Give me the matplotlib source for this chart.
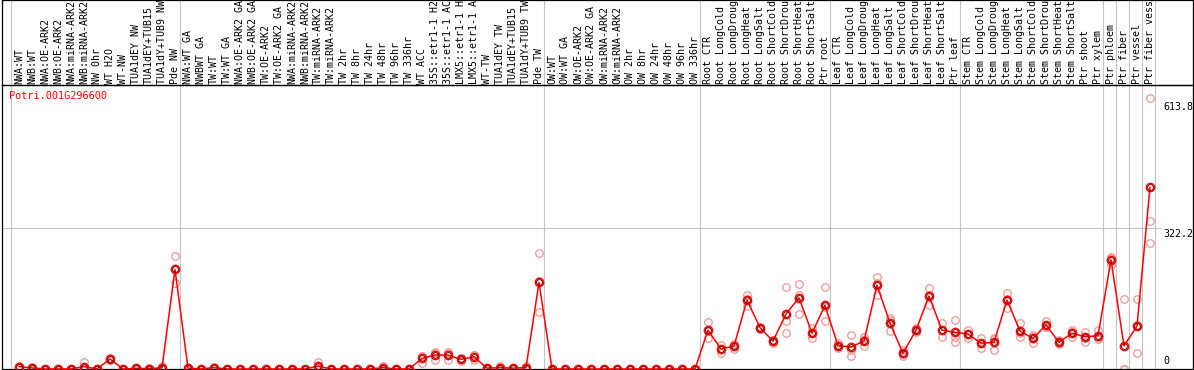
import matplotlib
matplotlib.use("Agg")
import matplotlib.pyplot as plt
import matplotlib.transforms as mtransforms
import numpy as np

gene = "Potri.001G296600"

labels = [
    "NWA:WT", "NWB:WT", "NWA:OE-ARK2", "NWB:OE-ARK2", "NWA:miRNA-ARK2", "NWB:miRNA-ARK2",
    "NW 0hr", "WT H2O", "WT-NW", "TUA1dEY NW", "TUA1dEY+TUB15", "TUA1dY+TUB9 NW", "Pde NW",
    "NWA:WT GA", "NWBWT GA", "TW:WT", "TW:WT GA", "NWA:OE-ARK2 GA", "NWB:OE-ARK2 GA",
    "TW:OE-ARK2", "TW:OE-ARK2 GA", "NWA:miRNA-ARK2", "NWB:miRNA-ARK2", "TW:miRNA-ARK2",
    "TW:miRNA-ARK2", "TW 2hr", "TW 8hr", "TW 24hr", "TW 48hr", "TW 96hr", "TW 336hr", "WT ACC",
    "35S::etr1-1 H2O", "35S::etr1-1 ACC", "LMX5::etr1-1 H2O", "LMX5::etr1-1 ACC", "WT-TW",
    "TUA1dEY TW", "TUA1dEY+TUB15", "TUA1dY+TUB9 TW", "Pde TW",
    "OW:WT", "OW:WT GA", "OW:OE-ARK2", "OW:OE-ARK2 GA", "OW:miRNA-ARK2", "OW:miRNA-ARK2",
    "OW 2hr", "OW 8hr", "OW 24hr", "OW 48hr", "OW 96hr", "OW 336hr",
    "Root CTR", "Root LongCold", "Root LongDrought", "Root LongHeat", "Root LongSalt",
    "Root ShortCold", "Root ShortDrought", "Root ShortHeat", "Root ShortSalt", "Ptr root",
    "Leaf CTR", "Leaf LongCold", "Leaf LongDrought", "Leaf LongHeat", "Leaf LongSalt",
    "Leaf ShortCold", "Leaf ShortDrought", "Leaf ShortHeat", "Leaf ShortSalt", "Ptr leaf",
    "Stem CTR", "Stem LongCold", "Stem LongDrought", "Stem LongHeat", "Stem LongSalt",
    "Stem ShortCold", "Stem ShortDrought", "Stem ShortHeat", "Stem ShortSalt", "Ptr shoot",
    "Ptr xylem", "Ptr phloem", "Ptr fiber", "Ptr vessel", "Ptr fiber vessel",
]

group_sizes = [13, 28, 12, 10, 10, 11, 1, 1, 1, 1]

means = [
    5.5, 2.5, 0, 0, 0, 5.5, 0, 23, 0, 1.5, 1, 2.5, 228,
    2, 0, 3, 0, 0, 0, 0, 0, 0, 0, 6.5, 0, 0, 0, 0, 3, 0, 0, 24.5, 32, 32, 22, 28, 2, 3, 2, 3, 198.5,
    0, 0, 0, 0, 0, 0, 0, 0, 0, 0, 0, 0,
    89, 46, 52.5, 158, 94.5, 64, 126, 163, 82, 146,
    53.5, 50.5, 64, 192, 105, 36, 89, 167, 89, 84,
    80, 59, 61, 158, 87, 70, 101, 61, 82, 74, 76,
    250, 53, 98.5, 416,
]

rep1 = [
    4, 1, 0, 0, 0, 17, 0, 26, 0, 1, 0, 7, 259,
    1, 0, 5, 0, 0, 0, 0, 0, 0, 0, 17, 0, 0, 0, 0, 7, 0, 0, 30, 40, 40, 24.5, 32, 1, 7, 1, 7, 265,
    0, 0, 0, 0, 0, 0, 0, 0, 0, 0, 0, 0,
    107, 55, 46, 169.5, 97, 66.5, 187, 194.5, 93, 187,
    58.5, 77, 72.5, 210.5, 116, 43.5, 93, 185, 104.5, 112,
    89, 70, 70, 174.5, 104.5, 74, 110.5, 66.5, 89, 85.5, 89,
    257, 160, 160, 620,
]

rep2 = [
    7, 4, 0, 0, 0, 0, 0, 20.5, 0, 2, 2, 0, 198,
    3, 0, 2, 0, 0, 0, 0, 0, 0, 0, 2, 0, 0, 0, 0, 1, 0, 0, 13, 20.5, 20.5, 19, 20.5, 3, 1, 3, 1, 130,
    0, 0, 0, 0, 0, 0, 0, 0, 0, 0, 0, 0,
    72, 37, 58, 144, 91, 59, 110.5, 169.5, 70, 110,
    47.5, 30, 52.5, 169.5, 87, 30, 89, 146.5, 74, 72.5,
    70, 47.5, 43.5, 139, 74, 59, 97, 59, 72.5, 62.5, 68,
    238, 0, 36, 339,
]

rep3 = [
    5.5, 2.5, 0, 0, 0, 0, 0, 22.5, 0, 1.5, 1, 0.5, 228,
    2, 0, 2, 0, 0, 0, 0, 0, 0, 0, 1, 0, 0, 0, 0, 1, 0, 0, 30.5, 35.5, 35.5, 22.5, 31.5, 2, 1, 2, 1, 200.5,
    0, 0, 0, 0, 0, 0, 0, 0, 0, 0, 0, 0,
    88, 46, 53.5, 160, 95.5, 66.5, 81.5, 126, 83, 141,
    54.5, 44.5, 67, 196, 112, 34.5, 85, 169.5, 88.5, 62.5,
    81, 59.5, 69.5, 160.5, 82.5, 77, 95.5, 57.5, 84.5, 70, 71,
    255, 0, 100, 288,
]

yticks = [0, 322.2, 613.8]
ytick_labels = ["0", "322.2", "613.8"]

# ---------------- layout (pixel based) ----------------
W, H = 1194, 370
fig = plt.figure(figsize=(W / 100, H / 100), dpi=100)
fig.patch.set_facecolor("white")


def px_box(x0, ytop, x1, ybot):
    return [x0 / W, 1 - ybot / H, (x1 - x0) / W, (ybot - ytop) / H]


AX_L, AX_R = 2, 1193
PLOT_TOP, PLOT_BOT = 85, 369
X0, DX = 19.0, 13.0          # pixel x of first category and spacing
PX_PER_UNIT = 0.4367         # vertical pixels per expression unit

ax = fig.add_axes(px_box(AX_L, PLOT_TOP, AX_R, PLOT_BOT))
lab = fig.add_axes(px_box(AX_L, 0, AX_R, PLOT_TOP))

xlim = ((AX_L - X0) / DX, (AX_R - X0) / DX)
for a in (ax, lab):
    a.set_xlim(*xlim)
    a.set_xticks([])
    a.set_yticks([])
    a.set_facecolor("none")
    for s in a.spines.values():
        s.set_color("black")
        s.set_linewidth(0.9)
ax.set_ylim(0, (PLOT_BOT - PLOT_TOP) / PX_PER_UNIT)
lab.set_ylim(0, 1)

x = np.arange(len(labels))

# group separators
ends = np.cumsum(group_sizes) - 1
seps = np.concatenate([[-1], ends]) + 0.38
for s in seps:
    ax.axvline(s, color="#c4c4c4", lw=0.8, zorder=0)
    lab.axvline(s, color="#c4c4c4", lw=0.8, zorder=0)

# horizontal grid at middle tick
gx_end = (1160 - AX_L) / (AX_R - AX_L)
ax.axhline(yticks[1], xmin=0, xmax=gx_end, color="#c4c4c4", lw=0.8, zorder=0)

mono = "DejaVu Sans Mono"

# category labels
for xi, t in zip(x, labels):
    lab.text(xi, 1.5 / PLOT_TOP, t, rotation=90, ha="center", va="bottom",
             fontsize=7.2, family=mono, color="black")

# y tick labels on the right
tx = (1163 - AX_L) / (AX_R - AX_L)
btr = mtransforms.blended_transform_factory(ax.transAxes, ax.transData)
for v, t in zip(yticks, ytick_labels):
    if v == 0:
        tr = btr + mtransforms.ScaledTranslation(0, 3 / 100, fig.dpi_scale_trans)
        ax.text(tx, v, t, transform=tr, ha="left", va="bottom", fontsize=7.2,
                family=mono, color="black")
    else:
        tr = btr + mtransforms.ScaledTranslation(0, -1 / 100, fig.dpi_scale_trans)
        ax.text(tx, v, t, transform=tr, ha="left", va="top", fontsize=7.2,
                family=mono, color="black")

# gene name
ax.text((9.5 - AX_L) / (AX_R - AX_L), (PLOT_BOT - 96) / (PLOT_BOT - PLOT_TOP), gene,
        transform=ax.transAxes, ha="left", va="center", fontsize=7.4, family=mono,
        color="#ff0000")

# replicates
for rep in (rep1, rep2, rep3):
    ax.plot(x, rep, ls="none", marker="o", ms=5.4, mfc="none", mec="#ee9a9a",
            mew=0.95, zorder=2, clip_on=False)

# mean line and markers
ax.plot(x, means, color="#ff0000", lw=1.1, zorder=3, clip_on=False)
ax.plot(x, means, ls="none", marker="o", ms=6.0, mfc="none", mec="#ff0000",
        mew=1.0, zorder=4, clip_on=False)
ax.plot(x, means, ls="none", marker="o", ms=4.2, mfc="none", mec="#700000",
        mew=0.7, zorder=5, clip_on=False)

fig.savefig("out.png", dpi=100, facecolor="white")
